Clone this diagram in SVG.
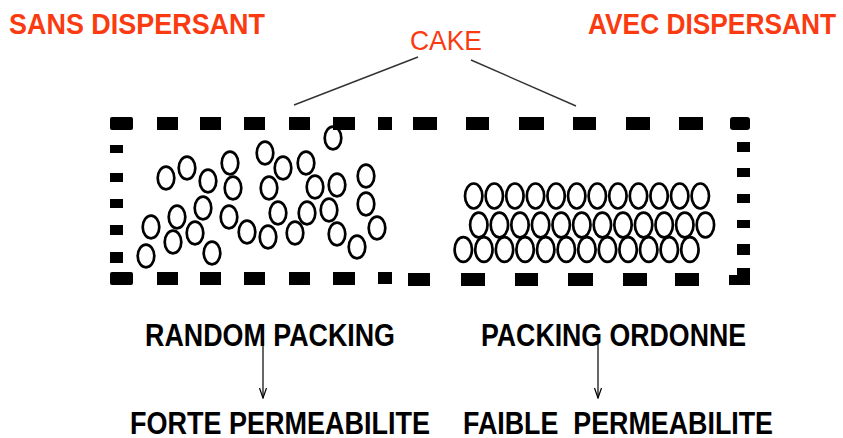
<svg xmlns="http://www.w3.org/2000/svg" width="843" height="438" viewBox="0 0 843 438">
  <style>
    .title { font-family: "Liberation Sans", Arial, sans-serif; font-weight: bold; font-size: 29px; fill: #FA3A10; }
    .cake { font-family: "Liberation Sans", Arial, sans-serif; font-size: 28px; fill: #FA3A10; }
    .label { font-family: "Liberation Sans", Arial, sans-serif; font-weight: bold; font-size: 31px; fill: #000; }
    .particle { fill: none; stroke: #000; stroke-width: 2.7; }
    .lead { fill: none; stroke: #333; stroke-width: 1.4; }
    .flow { fill: none; stroke: #000; stroke-width: 1.2; }
    .dash { fill: #000; }
  </style>
  <defs>
    <marker id="head" markerWidth="12" markerHeight="10" refX="11" refY="5" orient="auto" markerUnits="userSpaceOnUse" viewBox="0 0 12 10">
      <path d="M1,1.5 L11,5 L1,8.5" fill="none" stroke="#000" stroke-width="1.2"/>
    </marker>
  </defs>

  <rect width="843" height="438" fill="#fff"/>

  <!-- headings -->
  <g id="sans-dispersant">
    <text class="title" x="9" y="34" textLength="256" lengthAdjust="spacingAndGlyphs">SANS DISPERSANT</text>
  </g>
  <g id="avec-dispersant">
    <text class="title" x="588" y="34" textLength="248" lengthAdjust="spacingAndGlyphs">AVEC DISPERSANT</text>
  </g>
  <g id="cake">
    <text class="cake" x="410" y="50" textLength="72" lengthAdjust="spacingAndGlyphs">CAKE</text>
  </g>

  <!-- dashed cake frame -->
  <g id="frame" class="dash">
    <!-- top edge -->
    <rect x="110" y="117" width="23" height="13" rx="2"/>
    <rect x="157" y="117" width="21" height="13"/>
    <rect x="200" y="117" width="21" height="13"/>
    <rect x="244" y="117" width="21" height="13"/>
    <rect x="289" y="117" width="21" height="13"/>
    <rect x="333" y="117" width="22" height="13"/>
    <rect x="378" y="117" width="14" height="13"/>
    <rect x="413" y="117" width="24" height="13"/>
    <rect x="466" y="117" width="23" height="13"/>
    <rect x="519" y="117" width="25" height="13"/>
    <rect x="573" y="117" width="23" height="13"/>
    <rect x="626" y="117" width="24" height="13"/>
    <rect x="679" y="117" width="24" height="13"/>
    <rect x="730" y="117" width="20" height="13" rx="3"/>
    <!-- bottom edge -->
    <rect x="110" y="272" width="23" height="13" rx="2"/>
    <rect x="157" y="272" width="21" height="13"/>
    <rect x="200" y="272" width="21" height="13"/>
    <rect x="244" y="272" width="21" height="13"/>
    <rect x="289" y="272" width="21" height="13"/>
    <rect x="333" y="272" width="22" height="13"/>
    <rect x="378" y="272" width="14" height="12"/>
    <rect x="408" y="273" width="22" height="13"/>
    <rect x="461" y="273" width="24" height="13"/>
    <rect x="515" y="273" width="23" height="13"/>
    <rect x="568" y="273" width="25" height="13"/>
    <rect x="623" y="273" width="24" height="13"/>
    <rect x="675" y="273" width="24" height="13"/>
    <path d="M737,268 H750 V285 H729 V275 H737 Z"/>
    <!-- left edge -->
    <rect x="110" y="145" width="13" height="8"/>
    <rect x="110" y="173" width="13" height="9"/>
    <rect x="110" y="199" width="13" height="9"/>
    <rect x="110" y="225" width="13" height="10"/>
    <rect x="110" y="252" width="13" height="11"/>
    <!-- right edge -->
    <rect x="737" y="142" width="13" height="10"/>
    <rect x="737" y="168" width="13" height="9"/>
    <rect x="737" y="194" width="13" height="9"/>
    <rect x="737" y="220" width="13" height="8"/>
    <rect x="737" y="244" width="13" height="11"/>
  </g>

  <!-- random packing (no dispersant) -->
  <g id="random-packing" class="particle">
    <ellipse cx="166" cy="178" rx="8.3" ry="11.3"/>
    <ellipse cx="187" cy="168" rx="8.3" ry="11.3"/>
    <ellipse cx="208" cy="181" rx="8.3" ry="11.3"/>
    <ellipse cx="230" cy="163" rx="8.3" ry="11.3"/>
    <ellipse cx="233" cy="188" rx="8.3" ry="11.3"/>
    <ellipse cx="203" cy="208" rx="8.3" ry="11.3"/>
    <ellipse cx="177" cy="217" rx="8.3" ry="11.3"/>
    <ellipse cx="151" cy="227" rx="8.3" ry="11.3"/>
    <ellipse cx="173" cy="242" rx="8.3" ry="11.3"/>
    <ellipse cx="195" cy="233" rx="8.3" ry="11.3"/>
    <ellipse cx="146" cy="256" rx="8.3" ry="11.3"/>
    <ellipse cx="212" cy="253" rx="8.3" ry="11.3"/>
    <ellipse cx="229" cy="217" rx="8.3" ry="11.3"/>
    <ellipse cx="247" cy="232" rx="8.3" ry="11.3"/>
    <ellipse cx="333" cy="138" rx="8.3" ry="11.3"/>
    <ellipse cx="265" cy="153" rx="8.3" ry="11.3"/>
    <ellipse cx="283" cy="168" rx="8.3" ry="11.3"/>
    <ellipse cx="306" cy="163" rx="8.3" ry="11.3"/>
    <ellipse cx="269" cy="188" rx="8.3" ry="11.3"/>
    <ellipse cx="315" cy="187" rx="8.3" ry="11.3"/>
    <ellipse cx="337" cy="185" rx="8.3" ry="11.3"/>
    <ellipse cx="366" cy="176" rx="8.3" ry="11.3"/>
    <ellipse cx="278" cy="213" rx="8.3" ry="11.3"/>
    <ellipse cx="307" cy="213" rx="8.3" ry="11.3"/>
    <ellipse cx="329" cy="210" rx="8.3" ry="11.3"/>
    <ellipse cx="366" cy="204" rx="8.3" ry="11.3"/>
    <ellipse cx="268" cy="237" rx="8.3" ry="11.3"/>
    <ellipse cx="295" cy="233" rx="8.3" ry="11.3"/>
    <ellipse cx="337" cy="234" rx="8.3" ry="11.3"/>
    <ellipse cx="377" cy="228" rx="8.3" ry="11.3"/>
    <ellipse cx="357" cy="247" rx="8.3" ry="11.3"/>
  </g>

  <!-- ordered packing (with dispersant) -->
  <g id="ordered-packing" class="particle">
    <!-- row 1 -->
    <ellipse cx="473.7" cy="196" rx="8.7" ry="12.5"/>
    <ellipse cx="494.3" cy="196" rx="8.7" ry="12.5"/>
    <ellipse cx="514.9" cy="196" rx="8.7" ry="12.5"/>
    <ellipse cx="535.5" cy="196" rx="8.7" ry="12.5"/>
    <ellipse cx="556.1" cy="196" rx="8.7" ry="12.5"/>
    <ellipse cx="576.7" cy="196" rx="8.7" ry="12.5"/>
    <ellipse cx="597.3" cy="196" rx="8.7" ry="12.5"/>
    <ellipse cx="617.9" cy="196" rx="8.7" ry="12.5"/>
    <ellipse cx="638.5" cy="196" rx="8.7" ry="12.5"/>
    <ellipse cx="659.1" cy="196" rx="8.7" ry="12.5"/>
    <ellipse cx="679.7" cy="196" rx="8.7" ry="12.5"/>
    <ellipse cx="700.3" cy="196" rx="8.7" ry="12.5"/>
    <!-- row 2 -->
    <ellipse cx="478.8" cy="225" rx="8.7" ry="12.3"/>
    <ellipse cx="499.4" cy="225" rx="8.7" ry="12.3"/>
    <ellipse cx="520.0" cy="225" rx="8.7" ry="12.3"/>
    <ellipse cx="540.6" cy="225" rx="8.7" ry="12.3"/>
    <ellipse cx="561.2" cy="225" rx="8.7" ry="12.3"/>
    <ellipse cx="581.8" cy="225" rx="8.7" ry="12.3"/>
    <ellipse cx="602.4" cy="225" rx="8.7" ry="12.3"/>
    <ellipse cx="623.0" cy="225" rx="8.7" ry="12.3"/>
    <ellipse cx="643.6" cy="225" rx="8.7" ry="12.3"/>
    <ellipse cx="664.2" cy="225" rx="8.7" ry="12.3"/>
    <ellipse cx="684.8" cy="225" rx="8.7" ry="12.3"/>
    <ellipse cx="705.4" cy="225" rx="8.7" ry="12.3"/>
    <!-- row 3 -->
    <ellipse cx="463.3" cy="249.5" rx="8.7" ry="12.3"/>
    <ellipse cx="483.9" cy="249.5" rx="8.7" ry="12.3"/>
    <ellipse cx="504.5" cy="249.5" rx="8.7" ry="12.3"/>
    <ellipse cx="525.1" cy="249.5" rx="8.7" ry="12.3"/>
    <ellipse cx="545.7" cy="249.5" rx="8.7" ry="12.3"/>
    <ellipse cx="566.3" cy="249.5" rx="8.7" ry="12.3"/>
    <ellipse cx="586.9" cy="249.5" rx="8.7" ry="12.3"/>
    <ellipse cx="607.5" cy="249.5" rx="8.7" ry="12.3"/>
    <ellipse cx="628.1" cy="249.5" rx="8.7" ry="12.3"/>
    <ellipse cx="648.7" cy="249.5" rx="8.7" ry="12.3"/>
    <ellipse cx="669.3" cy="249.5" rx="8.7" ry="12.3"/>
    <ellipse cx="689.9" cy="249.5" rx="8.7" ry="12.3"/>
  </g>

  <!-- lower labels -->
  <g id="random-label">
    <text class="label" x="145" y="346" textLength="250" lengthAdjust="spacingAndGlyphs">RANDOM PACKING</text>
  </g>
  <g id="ordered-label">
    <text class="label" x="481" y="346" textLength="265" lengthAdjust="spacingAndGlyphs">PACKING ORDONNE</text>
  </g>
  <g id="high-permeability">
    <text class="label" x="130" y="434" textLength="300" lengthAdjust="spacingAndGlyphs">FORTE PERMEABILITE</text>
  </g>
  <g id="low-permeability">
    <text class="label" x="463" y="434" textLength="310" lengthAdjust="spacingAndGlyphs" xml:space="preserve">FAIBLE  PERMEABILITE</text>
  </g>

  <!-- connectors -->
  <g id="connectors">
    <line class="lead" x1="418" y1="57" x2="294" y2="105"/>
    <line class="lead" x1="471" y1="60" x2="576" y2="106"/>
    <line class="flow" x1="263" y1="338" x2="263" y2="398" marker-end="url(#head)"/>
    <line class="flow" x1="598" y1="342" x2="598" y2="398" marker-end="url(#head)"/>
  </g>
</svg>
